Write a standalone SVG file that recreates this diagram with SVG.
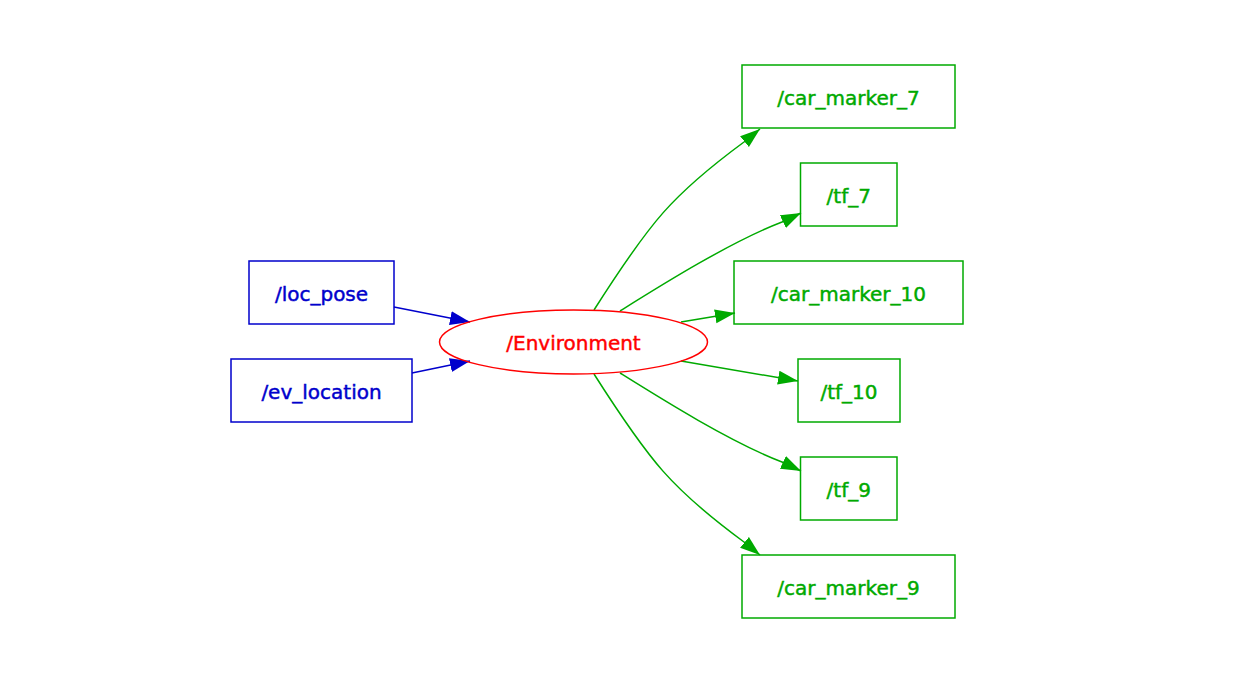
<svg xmlns="http://www.w3.org/2000/svg" width="1242" height="679" viewBox="0 0 1242 679">
<style>
text{font-family:"DejaVu Sans","Liberation Sans",sans-serif;font-size:20px;text-anchor:middle;stroke-width:0.45}
.b rect{fill:none;stroke:#0000cc;stroke-width:1.5}
.b text{fill:#0000cc;stroke:#0000cc}
.g rect{fill:none;stroke:#00aa00;stroke-width:1.5}
.g text{fill:#00aa00;stroke:#00aa00}
.eb{fill:none;stroke:#0000cc;stroke-width:1.5}
.eg{fill:none;stroke:#00aa00;stroke-width:1.5}
</style>
<defs>
<marker id="ab" markerUnits="userSpaceOnUse" markerWidth="22" markerHeight="16" refX="20" refY="7" orient="auto">
<path d="M0,0 L20,7 L0,14 z" fill="#0000cc"/>
</marker>
<marker id="ag" markerUnits="userSpaceOnUse" markerWidth="22" markerHeight="16" refX="20" refY="7" orient="auto">
<path d="M0,0 L20,7 L0,14 z" fill="#00aa00"/>
</marker>
</defs>
<rect width="1242" height="679" fill="#fff"/>
<g id="connectors">
<path class="eb" d="M394,307 L470,322" marker-end="url(#ab)"/>
<path class="eb" d="M412,373 L470,361" marker-end="url(#ab)"/>
<path class="eg" d="M594,310 C650,222 672,195 744,142 L760,129" marker-end="url(#ag)"/>
<path class="eg" d="M620,311 C660,286 730,242 782,222 L801,213" marker-end="url(#ag)"/>
<path class="eg" d="M681,322 L735,313" marker-end="url(#ag)"/>
<path class="eg" d="M681,361 L798,381" marker-end="url(#ag)"/>
<path class="eg" d="M620,373 C660,398 730,442 782,462 L801,471" marker-end="url(#ag)"/>
<path class="eg" d="M594,374 C650,462 672,489 744,542 L760,555" marker-end="url(#ag)"/>
</g>
<g id="loc_pose" class="b"><rect x="249" y="261" width="145" height="63"/><text x="321.5" y="301">/loc_pose</text></g>
<g id="ev_location" class="b"><rect x="231" y="359" width="181" height="63"/><text x="321.5" y="399">/ev_location</text></g>
<g id="Environment"><ellipse cx="573.5" cy="342" rx="134" ry="32" fill="none" stroke="#ff0000" stroke-width="1.5"/><text x="573.5" y="350" fill="#ff0000" stroke="#ff0000">/Environment</text></g>
<g id="car_marker_7" class="g"><rect x="742" y="65" width="213" height="63"/><text x="848.5" y="105">/car_marker_7</text></g>
<g id="tf_7" class="g"><rect x="800.5" y="163" width="96.5" height="63"/><text x="848.75" y="203">/tf_7</text></g>
<g id="car_marker_10" class="g"><rect x="734" y="261" width="229" height="63"/><text x="848.5" y="301">/car_marker_10</text></g>
<g id="tf_10" class="g"><rect x="798" y="359" width="102" height="63"/><text x="849" y="399">/tf_10</text></g>
<g id="tf_9" class="g"><rect x="800.5" y="457" width="96.5" height="63"/><text x="848.75" y="497">/tf_9</text></g>
<g id="car_marker_9" class="g"><rect x="742" y="555" width="213" height="63"/><text x="848.5" y="595">/car_marker_9</text></g>
</svg>
